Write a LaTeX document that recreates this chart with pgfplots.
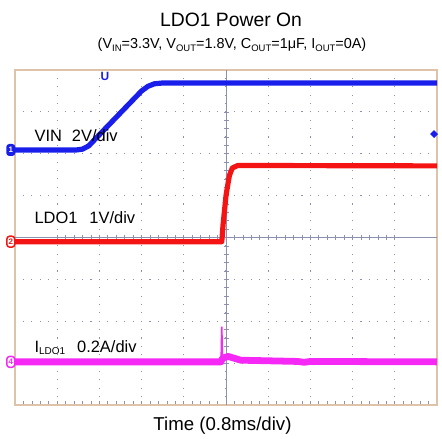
\documentclass[border=0pt]{standalone}
\usepackage{pgfplots}
\pgfplotsset{compat=1.18}
\usetikzlibrary{shapes.geometric}
\usepackage{fontspec}
\setmainfont{Liberation Sans}
\definecolor{scopeblue}{RGB}{25,30,235}
\definecolor{scopered}{RGB}{245,20,20}
\definecolor{scopemag}{RGB}{245,40,245}
\definecolor{framec}{RGB}{222,195,168}
\definecolor{gridc}{RGB}{140,145,175}

\pgfplotstableread{
x y
0 2.09
1.45 2.09
1.6 2.11
1.75 2.19
1.9 2.35
3.0 3.50
3.15 3.61
3.3 3.67
3.5 3.69
10 3.69
}\vin
\pgfplotstableread{
x y
0 -0.10
4.90 -0.10
4.93 0.30
5.00 1.00
5.08 1.48
5.15 1.66
5.28 1.72
10 1.71
}\ldo
\pgfplotstableread{
x y
0 -2.97
4.88 -2.97
4.92 -2.88
5.05 -2.84
5.35 -2.93
6.7 -2.96
6.85 -2.98
7.0 -2.96
10 -2.97
}\iout
\pgfplotstableread{
x y
4.885 -2.92
4.90 -2.13
4.915 -2.90
}\spike

\begin{document}
\begin{tikzpicture}
% screen: grid and frame
\begin{axis}[
  at={(0,0)}, anchor=south west,
  width=422bp, height=335bp, scale only axis,
  xmin=0, xmax=10, ymin=-4, ymax=4,
  xtick={0,...,10}, ytick={-3,...,3},
  minor x tick num=4,
  xticklabels={}, yticklabels={},
  xtick pos=bottom, ytick pos=left,
  tick align=inside,
  major tick length=4bp, minor tick length=4bp,
  xtick style={gridc, line width=0.7pt},
  ytick style={draw=none},
  grid=major,
  x grid style={gridc, line width=1.1pt, dash pattern=on 1.1bp off 7.275bp, dash phase=0.55bp},
  y grid style={gridc, line width=1.1pt, dash pattern=on 1.1bp off 7.34bp, dash phase=0.55bp},
  axis line style={framec, line width=1.8pt},
]
\end{axis}
% centre cross with small ticks
\begin{axis}[
  at={(0,0)}, anchor=south west,
  width=422bp, height=335bp, scale only axis,
  xmin=-5, xmax=5, ymin=-4, ymax=4,
  axis lines=center,
  every inner x axis line/.append style={-},
  every inner y axis line/.append style={-},
  axis line style={gridc, line width=0.8pt},
  xtick={-4,...,4}, ytick={-3,...,3},
  minor x tick num=4, minor y tick num=4,
  xticklabels={}, yticklabels={},
  tick align=center,
  major tick length=5bp, minor tick length=5bp,
  tick style={gridc, line width=0.7pt},
]
\end{axis}
% traces
\begin{axis}[
  at={(0,0)}, anchor=south west,
  width=422bp, height=335bp, scale only axis,
  xmin=0, xmax=10, ymin=-4, ymax=4,
  hide axis, clip mode=individual,
]
\addplot[scopemag, line width=1.6pt] table {\spike};
\addplot[scopemag, line width=6.8pt, line join=round] table {\iout};
\addplot[scopered, line width=5.2pt, line join=round] table {\ldo};
\addplot[scopeblue, line width=5.2pt, line join=round] table {\vin};

\node[anchor=west, font=\fontsize{16.5}{18}\selectfont] at (axis cs:0.38,2.43) {VIN\hspace{10bp}2V/div};
\node[anchor=west, font=\fontsize{16.5}{18}\selectfont] at (axis cs:0.38,0.47) {LDO1\hspace{12bp}1V/div};
\node[anchor=west, font=\fontsize{16.5}{18}\selectfont] at (axis cs:0.38,-2.62) {I\raisebox{-0.25ex}{\fontsize{10}{10}\selectfont LDO1}\hspace{12bp}0.2A/div};

% channel ground markers
\node[fill=scopeblue, text=white, rounded corners=3bp, inner sep=0bp, minimum width=9bp, minimum height=12bp, font=\fontsize{8}{8}\selectfont\bfseries] at (axis cs:-0.1,2.09) {1};
\node[draw=scopered, fill=white, text=scopered, line width=1.5pt, rounded corners=3bp, inner sep=0bp, minimum width=8bp, minimum height=11bp, font=\fontsize{8}{8}\selectfont\bfseries] at (axis cs:-0.1,-0.10) {2};
\node[draw=scopemag, fill=white, text=scopemag, line width=1.5pt, rounded corners=3bp, inner sep=0bp, minimum width=8bp, minimum height=11bp, font=\fontsize{8}{8}\selectfont\bfseries] at (axis cs:-0.1,-2.97) {4};
% trigger markers
\node[text=scopeblue, font=\fontsize{12}{12}\selectfont\bfseries, anchor=north, inner sep=0.5bp] at (axis cs:2.13,3.97) {U};
\node[fill=scopeblue, diamond, inner sep=2bp] at (axis cs:9.93,2.47) {};
\end{axis}

\node[font=\fontsize{19.4}{22}\selectfont] at (216bp,385bp) {LDO1 Power On};
\node[font=\fontsize{14.5}{16}\selectfont] at (217bp,360bp) {(V\raisebox{-0.3ex}{\fontsize{9.5}{10}\selectfont IN}=3.3V, V\raisebox{-0.3ex}{\fontsize{9.5}{10}\selectfont OUT}=1.8V, C\raisebox{-0.3ex}{\fontsize{9.5}{10}\selectfont OUT}=1μF, I\raisebox{-0.3ex}{\fontsize{9.5}{10}\selectfont OUT}=0A)};
\node[font=\fontsize{18.7}{21}\selectfont] at (207.5bp,-21bp) {Time (0.8ms/div)};

\pgfresetboundingbox
\path (-15bp,-34bp) rectangle (427bp,405bp);
\end{tikzpicture}
\end{document}
